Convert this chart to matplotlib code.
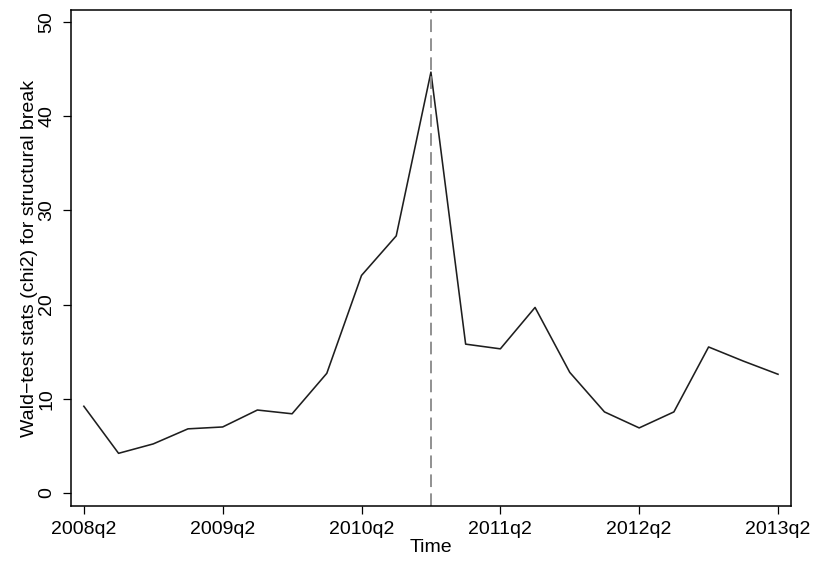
import matplotlib
matplotlib.use("Agg")
import matplotlib.pyplot as plt

quarters = ["2008q2", "2008q3", "2008q4", "2009q1", "2009q2", "2009q3", "2009q4",
            "2010q1", "2010q2", "2010q3", "2010q4", "2011q1", "2011q2", "2011q3",
            "2011q4", "2012q1", "2012q2", "2012q3", "2012q4", "2013q1", "2013q2"]
wald_stats = [9.2, 4.2, 5.2, 6.8, 7.0, 8.8, 8.4, 12.7, 23.1, 27.3, 44.7, 15.8,
              15.3, 19.7, 12.8, 8.6, 6.9, 8.6, 15.5, 14.0, 12.6]
break_quarter = "2010q4"
tick_labels = ["2008q2", "2009q2", "2010q2", "2011q2", "2012q2", "2013q2"]
y_ticks = [0, 10, 20, 30, 40, 50]

plt.rcParams['font.family'] = ['Liberation Sans', 'DejaVu Sans']

fig = plt.figure(figsize=(8.17, 5.63), dpi=100)
ax = fig.add_axes([0.0869, 0.1012, 0.968 - 0.0869, 0.9822 - 0.1012])

x = list(range(len(quarters)))
ax.plot(x, wald_stats, color="#1e1e1e", lw=1.15)
ax.axvline(quarters.index(break_quarter), color="#888888", lw=1.3,
           linestyle=(0, (7, 3.5)))

ax.set_xlim(-0.37, 20.37)
ax.set_ylim(-1.4, 51.3)
ax.set_xticks([quarters.index(t) for t in tick_labels])
ax.set_xticklabels(tick_labels)
ax.set_yticks(y_ticks)
ax.set_yticklabels([str(v) for v in y_ticks], rotation=90, va="center")
ax.tick_params(axis="both", labelsize=14, length=5.5, width=0.9, colors="black")
ax.tick_params(axis="x", pad=5)
ax.tick_params(axis="y", pad=6)
for s in ax.spines.values():
    s.set_linewidth(1.1)
    s.set_color("black")

ax.set_xlabel("Time", fontsize=14, labelpad=1)
ax.set_ylabel("Wald\u2212test stats (chi2) for structural break", fontsize=14, labelpad=0)

fig.savefig("out.png", dpi=100)
